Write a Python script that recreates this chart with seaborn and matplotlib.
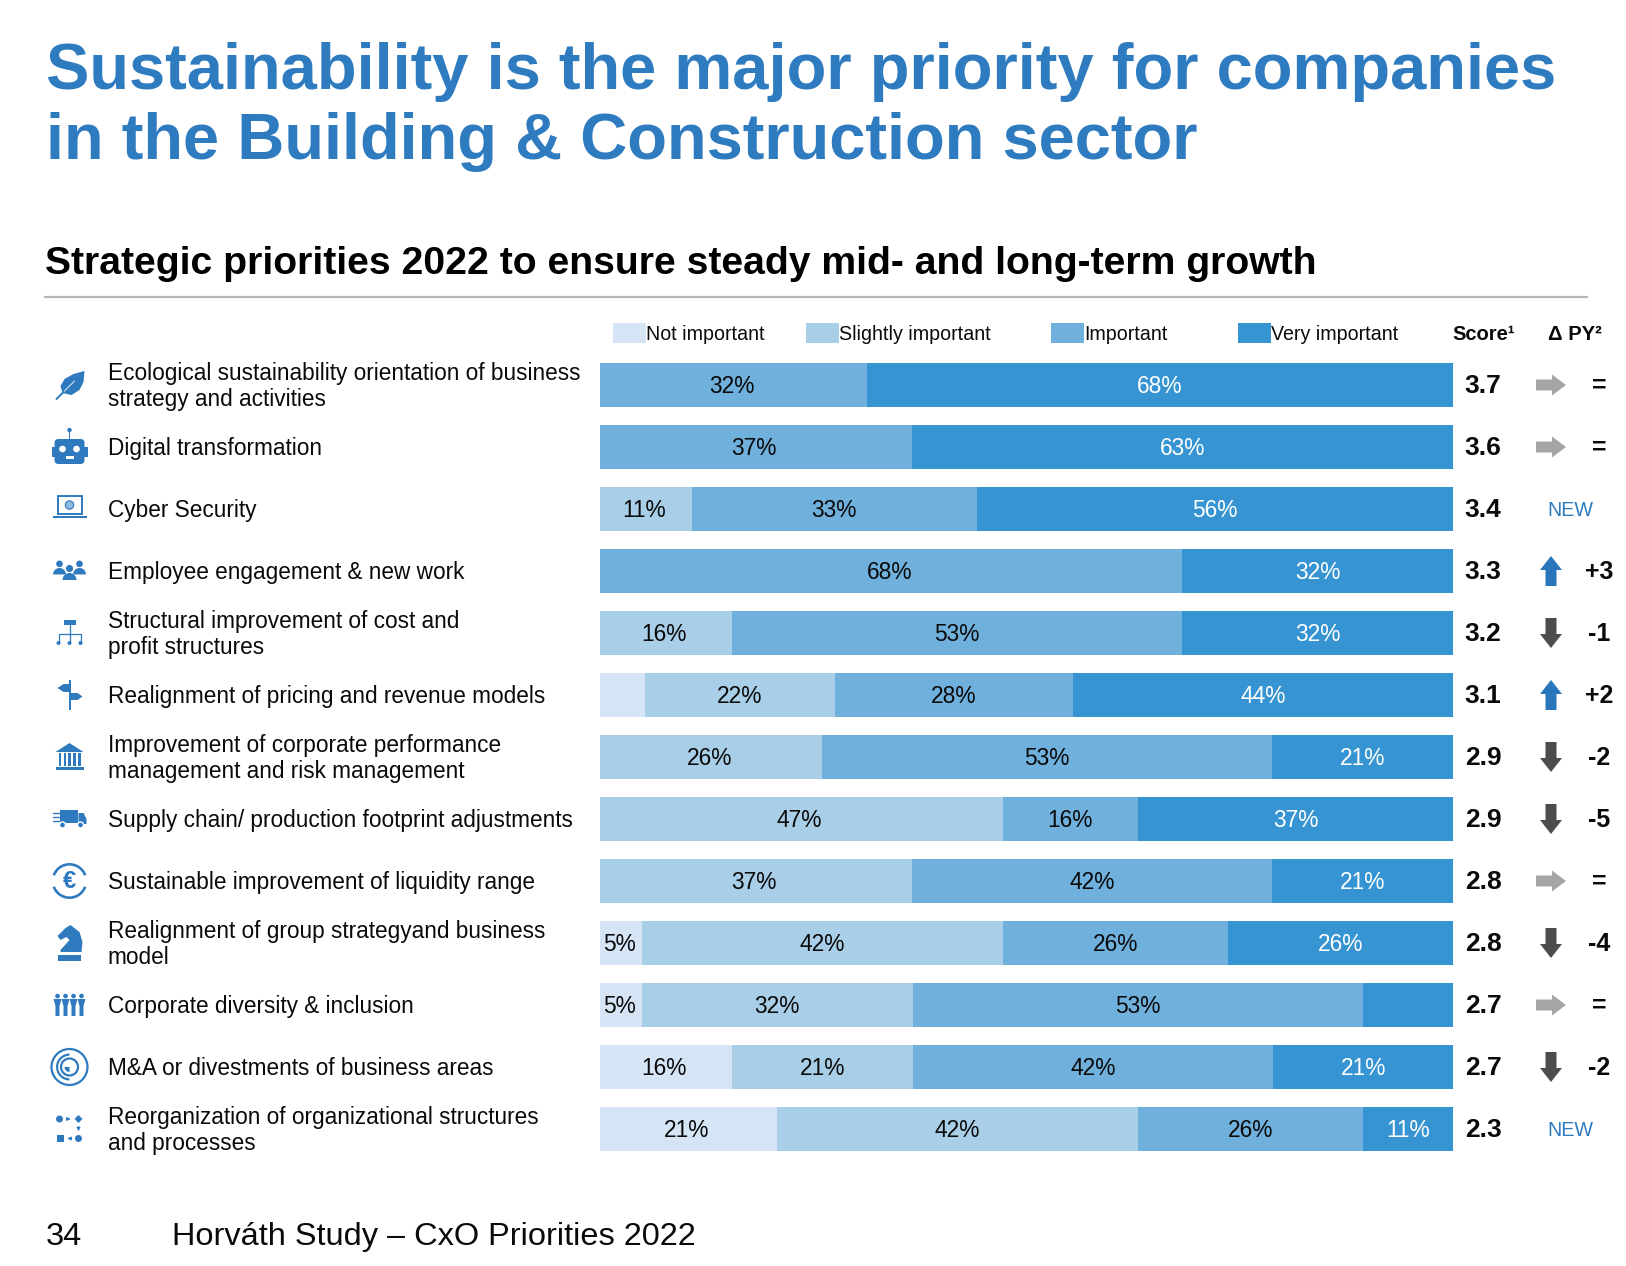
import numpy as np
import pandas as pd
import seaborn as sns
import matplotlib.pyplot as plt
from matplotlib.patches import Circle, Rectangle, Polygon, FancyBboxPatch, Wedge

priorities = [
    "Ecological sustainability orientation of business\nstrategy and activities",
    "Digital transformation",
    "Cyber Security",
    "Employee engagement & new work",
    "Structural improvement of cost and\nprofit structures",
    "Realignment of pricing and revenue models",
    "Improvement of corporate performance\nmanagement and risk management",
    "Supply chain/ production footprint adjustments",
    "Sustainable improvement of liquidity range",
    "Realignment of group strategyand business\nmodel",
    "Corporate diversity & inclusion",
    "M&A or divestments of business areas",
    "Reorganization of organizational structures\nand processes",
]
not_important = [0, 0, 0, 0, 0, 5.6, 0, 0, 0, 5.3, 5.3, 15.8, 21.1]
slightly_important = [0, 0, 11.1, 0, 15.8, 22.2, 26.3, 47.4, 36.8, 42.1, 31.6, 21.1, 42.1]
important = [31.6, 36.8, 33.3, 68.4, 52.6, 27.8, 52.6, 15.8, 42.1, 26.3, 52.6, 42.1, 26.3]
very_important = [68.4, 63.2, 55.6, 31.6, 31.6, 44.4, 21.1, 36.8, 21.1, 26.3, 10.6, 21.1, 10.6]
scores = [3.7, 3.6, 3.4, 3.3, 3.2, 3.1, 2.9, 2.9, 2.8, 2.8, 2.7, 2.7, 2.3]
deltas = ["=", "=", "NEW", "+3", "-1", "+2", "-2", "-5", "=", "-4", "=", "-2", "NEW"]
levels = ["Not important", "Slightly important", "Important", "Very important"]
# segments that carry no label in the original (row, level)
unlabelled = [(5, 0), (10, 3)]

colors = ["#d6e5f6", "#a8cee8", "#6fb0dc", "#3594d1"]
BLUE = "#2e7bc0"
ICON = "#2f7abf"
INK = "#0a0a0a"
W, H = 1626, 1266
BAR_L, BAR_R = 600, 1453
ROW0, STEP = 385, 62

sns.set_theme(style="white")
plt.rcParams["font.family"] = ["Liberation Sans", "DejaVu Sans"]

fig = plt.figure(figsize=(W / 100, H / 100), dpi=100, facecolor="white")

# stacked bars: cumulative totals drawn back to front
ax = fig.add_axes([BAR_L / W, 1 - (ROW0 + 12.5 * STEP) / H, (BAR_R - BAR_L) / W, 13 * STEP / H])
series = np.array([not_important, slightly_important, important, very_important])
cum = series.cumsum(axis=0)
df = pd.DataFrame({"priority": priorities})
for i in [3, 2, 1, 0]:
    df["total"] = cum[i]
    sns.barplot(data=df, x="total", y="priority", color=colors[i], width=44 / 62,
                saturation=1, ax=ax, orient="h", linewidth=0)
ax.set_xlim(0.4, 100)
ax.set_ylim(12.5, -0.5)
ax.set_xlabel("")
ax.set_ylabel("")
ax.set_xticks([])
ax.set_yticks([])
sns.despine(ax=ax, left=True, bottom=True)
ax.patch.set_alpha(0)

for r in range(len(priorities)):
    for i in range(4):
        v = series[i][r]
        if v == 0 or (r, i) in unlabelled:
            continue
        ax.text(cum[i][r] - v / 2, r + 0.03, f"{v:.0f}%", ha="center", va="center", fontsize=16.4,
                color="white" if i == 3 else INK)

# everything else in pixel coordinates
ov = fig.add_axes([0, 0, 1, 1], zorder=5)
ov.set_xlim(0, W)
ov.set_ylim(H, 0)
ov.axis("off")
ov.patch.set_alpha(0)

ov.text(46, 89, "Sustainability is the major priority for companies", fontsize=46.9, fontweight="bold",
        color=BLUE, va="baseline")
ov.text(46, 159.5, "in the Building & Construction sector", fontsize=46.9, fontweight="bold",
        color=BLUE, va="baseline")
ov.text(45, 274, "Strategic priorities 2022 to ensure steady mid- and long-term growth", fontsize=28.2,
        fontweight="bold", color="black", va="baseline")
ov.plot([45, 1587], [296.5, 296.5], color="#b3b3b3", lw=1.6)

# legend
swatch_x = [613, 806, 1051, 1238]
for x, c, name in zip(swatch_x, colors, levels):
    ov.add_patch(Rectangle((x, 323), 33, 19.5, color=c, lw=0))
    ov.text(x + 33, 335, name, fontsize=14.1, va="center", color=INK)
ov.text(1484, 335, "Score¹", fontsize=14.5, fontweight="bold", ha="center", va="center", color=INK)
ov.text(1575, 335, "Δ PY²", fontsize=14.5, fontweight="bold", ha="center", va="center", color=INK)


def arrow(cx, cy, direction):
    if direction == "right":
        pts = [(-15, -5.5), (1, -5.5), (1, -10.5), (15, 0), (1, 10.5), (1, 5.5), (-15, 5.5)]
        c = "#a6a6a6"
    elif direction == "up":
        pts = [(-5.5, 15), (-5.5, -1), (-11, -1), (0, -15), (11, -1), (5.5, -1), (5.5, 15)]
        c = "#2a76bc"
    else:
        pts = [(-5.5, -15), (-5.5, 1), (-11, 1), (0, 15), (11, 1), (5.5, 1), (5.5, -15)]
        c = "#4d4d4d"
    ov.add_patch(Polygon([(cx + a, cy + b) for a, b in pts], color=c, lw=0))


def person(x, y, s, c=ICON):
    ov.add_patch(Circle((x, y - s * 0.9), s * 0.72, color=c, lw=0))
    ov.add_patch(Wedge((x, y + s * 1.4), s * 1.4, 180, 360, color=c, lw=0))


def icon(k, cx, cy):
    add = ov.add_patch
    if k == 0:  # leaf
        add(Polygon([(cx + 15, cy - 14), (cx + 14, cy - 3), (cx + 10, cy + 5), (cx + 2, cy + 10), (cx - 7, cy + 8),
                     (cx - 9, cy + 1), (cx - 5, cy - 6), (cx + 4, cy - 11)], color=ICON, lw=0))
        ov.plot([cx - 6, cx + 5], [cy + 7, cy - 4], color="white", lw=0.6)
        ov.plot([cx - 13, cx - 6], [cy + 14, cy + 7], color=ICON, lw=1.4)
    elif k == 1:  # robot
        add(FancyBboxPatch((cx - 15, cy - 8), 30, 25, boxstyle="round,pad=0,rounding_size=4", color=ICON, lw=0))
        add(Rectangle((cx - 18, cy), 36, 10, color=ICON, lw=0))
        add(Rectangle((cx - 0.8, cy - 15), 1.6, 8, color=ICON, lw=0))
        add(Circle((cx, cy - 17), 2.2, color=ICON, lw=0))
        add(Circle((cx - 7, cy + 2), 3.3, color="white", lw=0))
        add(Circle((cx + 7, cy + 2), 3.3, color="white", lw=0))
        add(Rectangle((cx - 4, cy + 9), 8, 2.5, color="white", lw=0))
    elif k == 2:  # laptop
        add(Rectangle((cx - 12, cy - 13), 24, 18, fc="none", ec=ICON, lw=1.4))
        add(Rectangle((cx - 17, cy + 7), 34, 1.8, color=ICON, lw=0))
        add(Circle((cx, cy - 4), 4.2, fc="#8fbbe0", ec=ICON, lw=0.8))
    elif k == 3:  # employees
        person(cx - 10, cy - 3, 4.6)
        person(cx + 10, cy - 3, 4.6)
        person(cx, cy + 2, 5)
    elif k == 4:  # org chart
        add(Rectangle((cx - 6, cy - 13), 12, 5, color=ICON, lw=0))
        ov.plot([cx, cx], [cy - 8, cy + 9], color=ICON, lw=0.9)
        ov.plot([cx - 11, cx - 11, cx + 11, cx + 11], [cy + 9, cy + 1, cy + 1, cy + 9], color=ICON, lw=0.9)
        for dx in (-11, 0, 11):
            add(Circle((cx + dx, cy + 10), 2, color=ICON, lw=0))
    elif k == 5:  # signpost
        add(Rectangle((cx - 1, cy - 15), 2.4, 30, color=ICON, lw=0))
        add(Polygon([(cx, cy - 11), (cx - 6, cy - 11), (cx - 12, cy - 7), (cx - 6, cy - 3), (cx, cy - 3)], color=ICON, lw=0))
        add(Polygon([(cx, cy - 2), (cx + 8, cy - 2), (cx + 13, cy + 1.5), (cx + 8, cy + 5), (cx, cy + 5)], color=ICON, lw=0))
    elif k == 6:  # bank
        add(Polygon([(cx - 14, cy - 5), (cx, cy - 14), (cx + 14, cy - 5)], color=ICON, lw=0))
        for dx in (-11, -6, -1.2, 3.6, 8.4):
            add(Rectangle((cx + dx, cy - 4), 2.6, 13, color=ICON, lw=0))
        add(Rectangle((cx - 14, cy + 10), 28, 3, color=ICON, lw=0))
    elif k == 7:  # truck
        add(Rectangle((cx - 10, cy - 9), 18, 13, color=ICON, lw=0))
        add(Polygon([(cx + 9, cy - 6), (cx + 14, cy - 6), (cx + 17, cy), (cx + 17, cy + 5), (cx + 9, cy + 5)], color=ICON, lw=0))
        for yy in (-6, -2, 2):
            ov.plot([cx - 17, cx - 11], [cy + yy, cy + yy], color=ICON, lw=1)
        for dx in (-7, 11):
            add(Circle((cx + dx, cy + 6), 3, fc=ICON, ec="white", lw=1))
    elif k == 8:  # euro
        add(Wedge((cx, cy), 18, 200, 340, width=2.6, color=ICON, lw=0))
        add(Wedge((cx, cy), 18, 20, 160, width=2.6, color=ICON, lw=0))
        ov.text(cx, cy, "€", fontsize=17, fontweight="bold", color=ICON, ha="center", va="center")
    elif k == 9:  # knight
        add(Polygon([(cx + 1, cy - 18), (cx + 10, cy - 11), (cx + 13, cy - 1), (cx + 12, cy + 9), (cx - 9, cy + 9),
                     (cx - 9, cy + 7), (cx, cy - 3), (cx - 3, cy - 6), (cx - 9, cy - 3), (cx - 12, cy - 7), (cx - 4, cy - 15)],
                    color=ICON, lw=0))
        add(Rectangle((cx - 12, cy + 12), 23, 6, color=ICON, lw=0))
    elif k == 10:  # diversity
        for dx in (-12, -4, 4, 12):
            add(Circle((cx + dx, cy - 9), 2.3, color=ICON, lw=0))
            add(Polygon([(cx + dx - 4, cy - 6), (cx + dx + 4, cy - 6), (cx + dx + 2, cy + 1), (cx + dx + 2, cy + 11),
                         (cx + dx - 2, cy + 11), (cx + dx - 2, cy + 1)], color=ICON, lw=0))
    elif k == 11:  # target
        add(Circle((cx, cy), 18, fc="none", ec=ICON, lw=1.6))
        add(Circle((cx, cy), 8.5, fc="none", ec=ICON, lw=1.6))
        add(Wedge((cx, cy), 13.5, 90, 270, width=2.2, color=ICON, lw=0))
        add(Wedge((cx, cy), 5, 90, 180, color=ICON, lw=0))
    elif k == 12:  # process
        add(Circle((cx - 10, cy - 10), 3.5, color=ICON, lw=0))
        add(Polygon([(cx + 9, cy - 14), (cx + 13, cy - 10), (cx + 9, cy - 6), (cx + 5, cy - 10)], color=ICON, lw=0))
        add(Rectangle((cx - 13, cy + 6), 7, 7, color=ICON, lw=0))
        add(Circle((cx + 9, cy + 9.5), 3.5, color=ICON, lw=0))
        ov.annotate("", (cx + 4, cy - 10), (cx - 6, cy - 10), arrowprops=dict(arrowstyle="-|>", color=ICON, lw=0.8, mutation_scale=5))
        ov.annotate("", (cx + 9, cy + 5), (cx + 9, cy - 5), arrowprops=dict(arrowstyle="-|>", color=ICON, lw=0.8, mutation_scale=5))
        ov.annotate("", (cx - 5, cy + 9.5), (cx + 5, cy + 9.5), arrowprops=dict(arrowstyle="-|>", color=ICON, lw=0.8, mutation_scale=5))


for r, name in enumerate(priorities):
    y = ROW0 + STEP * r
    ov.text(107.5, y + 1.5, name, fontsize=16.3, va="center", ha="left", color=INK, linespacing=1.22)
    icon(r, 69.5, y)
    ov.text(1483, y + 1, f"{scores[r]:.1f}", fontsize=19, fontweight="bold", ha="center", va="center", color=INK)
    d = deltas[r]
    if d == "NEW":
        ov.text(1570, y + 1, d, fontsize=14.2, ha="center", va="center", color=BLUE)
    else:
        arrow(1551, y, "right" if d == "=" else ("up" if d[0] == "+" else "down"))
        ov.text(1599, y + 1, d, fontsize=18, fontweight="bold", ha="center", va="center", color=INK)

ov.text(46, 1245, "34", fontsize=23.4, va="baseline", color=INK)
ov.text(172, 1245, "Horváth Study – CxO Priorities 2022", fontsize=23.4, va="baseline", color=INK)

fig.savefig("out.png", dpi=100)
